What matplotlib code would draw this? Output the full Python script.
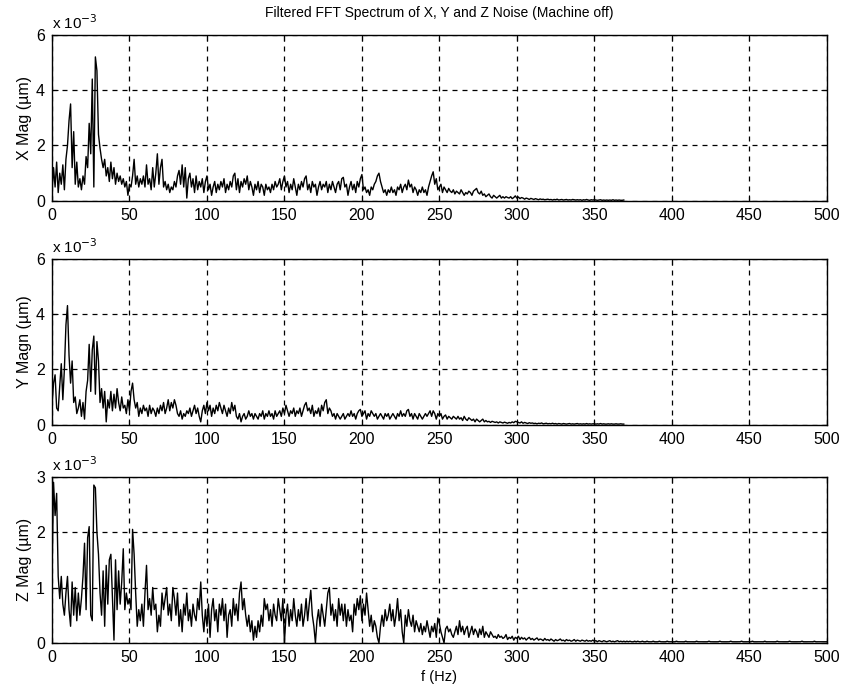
"""Filtered FFT spectrum of X, Y and Z noise, machine off."""
import matplotlib
matplotlib.use("Agg")
import matplotlib.pyplot as plt
import numpy as np

# magnitudes in units of 1e-3 um, one value per Hz starting at 0 Hz
x_mag = [
    0.3, 1.2, 0.5, 1.4, 0.3, 1.0, 0.6, 1.3, 0.4, 1.5,
    2.0, 2.9, 3.5, 1.2, 2.5, 0.6, 1.4, 0.5, 0.8, 0.4,
    0.9, 0.6, 1.6, 1.2, 2.8, 1.7, 4.4, 0.5, 5.2, 4.7,
    2.4, 1.9, 1.5, 1.2, 1.5, 0.9, 1.2, 0.7, 1.4, 0.8,
    1.2, 0.6, 1.0, 0.7, 0.9, 0.6, 0.8, 0.5, 0.7, 0.2,
    0.6, 0.5, 0.9, 1.5, 0.6, 0.9, 0.5, 0.8, 0.6, 0.9,
    0.5, 1.3, 0.6, 0.8, 0.4, 1.2, 0.5, 1.0, 1.7, 0.6,
    1.2, 1.5, 0.5, 0.7, 0.4, 0.6, 0.3, 0.5, 0.4, 0.7,
    0.5, 0.9, 1.1, 0.6, 1.3, 0.5, 1.2, 0.1, 0.8, 1.0,
    0.5, 0.8, 0.3, 0.9, 0.4, 0.7, 0.5, 0.8, 0.3, 0.7,
    0.9, 0.4, 0.6, 0.2, 0.5, 0.7, 0.3, 0.6, 0.4, 0.7,
    0.5, 0.8, 0.3, 0.6, 0.4, 0.7, 0.5, 0.9, 1.0, 0.4,
    0.8, 0.3, 0.7, 0.5, 0.8, 0.6, 0.9, 0.4, 0.7, 0.5,
    0.2, 0.6, 0.4, 0.7, 0.3, 0.6, 0.5, 0.2, 0.6, 0.4,
    0.5, 0.3, 0.6, 0.4, 0.7, 0.5, 0.6, 0.8, 0.4, 0.7,
    0.9, 0.5, 0.7, 0.3, 0.6, 0.4, 0.8, 0.5, 0.2, 0.6,
    0.4, 0.7, 0.5, 0.8, 0.9, 0.4, 0.6, 0.3, 0.7, 0.5,
    0.6, 0.2, 0.5, 0.7, 0.4, 0.6, 0.5, 0.7, 0.3, 0.6,
    0.4, 0.7, 0.5, 0.3, 0.6, 0.7, 0.4, 0.8, 0.85, 0.5,
    0.6, 0.2, 0.5, 0.7, 0.4, 0.6, 0.3, 0.7, 0.5, 0.8,
    0.95, 0.4, 0.5, 0.3, 0.4, 0.2, 0.5, 0.4, 0.6, 0.7,
    0.9, 1.0, 0.7, 0.5, 0.3, 0.4, 0.2, 0.4, 0.3, 0.5,
    0.3, 0.4, 0.2, 0.5, 0.4, 0.6, 0.3, 0.5, 0.6, 0.4,
    0.75, 0.5, 0.6, 0.3, 0.5, 0.4, 0.2, 0.4, 0.3, 0.5,
    0.3, 0.4, 0.2, 0.5, 0.7, 0.9, 1.05, 0.6, 0.8, 0.4,
    0.5, 0.6, 0.3, 0.5, 0.4, 0.3, 0.45, 0.35, 0.3, 0.4,
    0.25, 0.35, 0.3, 0.25, 0.4, 0.3, 0.2, 0.3, 0.25, 0.35,
    0.3, 0.2, 0.35, 0.4, 0.45, 0.3, 0.25, 0.35, 0.2, 0.25,
    0.15, 0.2, 0.25, 0.15, 0.1, 0.2, 0.15, 0.1, 0.15, 0.2,
    0.1, 0.15, 0.1, 0.15, 0.12, 0.1, 0.15, 0.08, 0.12, 0.18,
    0.1, 0.14, 0.08, 0.12, 0.1, 0.06, 0.1, 0.08, 0.05, 0.09,
    0.07, 0.05, 0.08, 0.06, 0.04, 0.07, 0.05, 0.06, 0.04, 0.05,
    0.06, 0.04, 0.05, 0.03, 0.05, 0.04, 0.06, 0.03, 0.04, 0.05,
    0.03, 0.04, 0.05, 0.03, 0.04, 0.03, 0.05, 0.04, 0.03, 0.04,
    0.03, 0.04, 0.02, 0.04, 0.03, 0.05, 0.03, 0.02, 0.04, 0.03,
    0.04, 0.03, 0.02, 0.03, 0.04, 0.02, 0.03, 0.02, 0.03, 0.02,
    0.03, 0.02, 0.04, 0.02, 0.03, 0.02, 0.03, 0.02, 0.02, 0.03,
]

y_mag = [
    0.7, 1.5, 1.8, 0.6, 0.5, 1.4, 2.2, 0.9, 2.0, 3.6,
    4.3, 2.5, 1.5, 2.3, 0.8, 1.0, 0.4, 0.6, 0.9, 0.3,
    0.8, 0.2, 1.2, 1.6, 2.9, 1.2, 2.7, 3.2, 1.1, 3.0,
    2.3, 0.8, 1.3, 0.6, 1.2, 0.1, 0.9, 0.6, 1.2, 0.5,
    1.1, 0.6, 1.3, 0.8, 0.5, 1.0, 0.6, 0.7, 0.4, 0.9,
    0.5, 1.2, 1.5, 0.9, 0.6, 0.8, 0.3, 0.6, 0.4, 0.7,
    0.5, 0.6, 0.3, 0.7, 0.4, 0.6, 0.5, 0.3, 0.6, 0.4,
    0.7, 0.5, 0.8, 0.4, 0.6, 0.9, 0.5, 0.8, 0.6, 0.9,
    0.7, 0.4, 0.3, 0.5, 0.2, 0.4, 0.3, 0.5, 0.4, 0.6,
    0.3, 0.5, 0.7, 0.4, 0.6, 0.3, 0.1, 0.5, 0.7, 0.4,
    0.8, 0.5, 0.7, 0.3, 0.6, 0.4, 0.7, 0.5, 0.8, 0.6,
    0.4, 0.7, 0.5, 0.3, 0.6, 0.4, 0.8, 0.5, 0.7, 0.3,
    0.2, 0.4, 0.1, 0.3, 0.4, 0.2, 0.3, 0.5, 0.3, 0.4,
    0.2, 0.4, 0.3, 0.2, 0.4, 0.3, 0.5, 0.2, 0.4, 0.3,
    0.5, 0.3, 0.4, 0.2, 0.5, 0.3, 0.4, 0.5, 0.3, 0.6,
    0.4, 0.7, 0.5, 0.3, 0.5, 0.4, 0.6, 0.3, 0.5, 0.4,
    0.6, 0.3, 0.5, 0.7, 0.8, 0.5, 0.6, 0.4, 0.7, 0.3,
    0.5, 0.4, 0.6, 0.3, 0.7, 0.5, 0.8, 0.9, 0.4, 0.6,
    0.5, 0.3, 0.4, 0.2, 0.4, 0.3, 0.2, 0.3, 0.4, 0.2,
    0.3, 0.4, 0.3, 0.5, 0.3, 0.4, 0.2, 0.4, 0.5, 0.55,
    0.3, 0.4, 0.5, 0.2, 0.4, 0.3, 0.5, 0.4, 0.3, 0.4,
    0.2, 0.3, 0.4, 0.3, 0.2, 0.4, 0.3, 0.4, 0.2, 0.3,
    0.4, 0.3, 0.2, 0.4, 0.3, 0.5, 0.3, 0.4, 0.3, 0.5,
    0.55, 0.3, 0.4, 0.2, 0.4, 0.3, 0.2, 0.4, 0.3, 0.2,
    0.3, 0.4, 0.3, 0.4, 0.5, 0.3, 0.5, 0.4, 0.2, 0.4,
    0.3, 0.4, 0.2, 0.3, 0.35, 0.2, 0.3, 0.25, 0.2, 0.3,
    0.25, 0.2, 0.3, 0.2, 0.25, 0.15, 0.3, 0.2, 0.15, 0.25,
    0.2, 0.15, 0.2, 0.1, 0.2, 0.15, 0.1, 0.15, 0.2, 0.1,
    0.15, 0.1, 0.12, 0.08, 0.12, 0.1, 0.08, 0.1, 0.06, 0.1,
    0.08, 0.06, 0.09, 0.07, 0.05, 0.08, 0.06, 0.1, 0.07, 0.12,
    0.1, 0.08, 0.06, 0.1, 0.05, 0.08, 0.06, 0.04, 0.07, 0.05,
    0.06, 0.04, 0.05, 0.03, 0.05, 0.04, 0.06, 0.03, 0.04, 0.05,
    0.03, 0.04, 0.03, 0.05, 0.03, 0.04, 0.02, 0.04, 0.03, 0.02,
    0.04, 0.03, 0.02, 0.03, 0.04, 0.02, 0.03, 0.02, 0.03, 0.04,
    0.02, 0.03, 0.02, 0.03, 0.02, 0.04, 0.02, 0.03, 0.02, 0.03,
    0.03, 0.02, 0.03, 0.02, 0.04, 0.02, 0.03, 0.02, 0.02, 0.03,
    0.02, 0.03, 0.02, 0.02, 0.03, 0.02, 0.02, 0.03, 0.02, 0.02,
]

z_mag = [
    1.2, 2.9, 2.3, 2.7, 1.2, 0.8, 1.2, 0.7, 0.5, 0.9,
    1.2, 0.6, 0.3, 1.1, 0.5, 1.0, 0.4, 0.9, 0.5, 0.8,
    1.2, 1.8, 0.6, 1.9, 2.1, 0.5, 0.4, 2.85, 2.8, 2.0,
    1.6, 0.9, 0.5, 1.3, 0.3, 1.4, 0.7, 1.5, 1.6, 0.8,
    0.05, 1.5, 0.6, 1.3, 0.7, 1.1, 1.7, 0.6, 0.9, 0.7,
    0.8, 0.6, 2.05, 1.6, 0.9, 0.3, 0.6, 0.4, 0.7, 0.3,
    0.9, 1.4, 0.6, 0.8, 0.5, 1.0, 0.6, 0.7, 0.2, 0.5,
    0.3, 0.9, 0.6, 0.8, 1.0, 0.5, 0.7, 0.4, 1.0, 0.8,
    0.5, 0.9, 0.3, 0.6, 0.2, 0.7, 0.5, 0.9, 0.4, 0.6,
    0.3, 0.7, 0.5, 0.4, 0.8, 0.6, 1.1, 0.5, 0.2, 0.6,
    0.3, 0.7, 0.1, 0.6, 0.8, 0.4, 0.6, 0.2, 0.7, 0.5,
    0.8, 0.4, 0.7, 0.1, 0.5, 0.6, 0.3, 0.8, 0.5, 0.7,
    0.4, 0.9, 1.1, 0.6, 0.8, 0.5, 0.3, 0.5, 0.2, 0.4,
    0.05, 0.3, 0.1, 0.4, 0.2, 0.5, 0.3, 0.8, 0.6, 0.7,
    0.4, 0.6, 0.3, 0.7, 0.5, 0.4, 0.8, 0.6, 0.4, 0.8,
    0.0, 0.5, 0.7, 0.3, 0.6, 0.4, 0.8, 0.5, 0.3, 0.6,
    0.4, 0.7, 0.3, 0.5, 0.8, 0.4, 0.7, 0.95, 0.5, 0.3,
    0.0, 0.4, 0.6, 0.3, 0.7, 0.5, 0.3, 0.6, 0.9, 1.0,
    0.5, 0.7, 0.4, 0.6, 0.3, 0.8, 0.5, 0.7, 0.4, 0.7,
    0.3, 0.6, 0.4, 0.5, 0.2, 0.7, 0.5, 0.8, 0.6, 0.85,
    0.4, 0.7, 0.5, 0.9, 0.6, 0.3, 0.5, 0.2, 0.4, 0.3,
    0.1, 0.0, 0.3, 0.5, 0.3, 0.6, 0.4, 0.5, 0.7, 0.4,
    0.6, 0.3, 0.5, 0.8, 0.4, 0.6, 0.2, 0.0, 0.5, 0.3,
    0.6, 0.4, 0.3, 0.5, 0.2, 0.4, 0.3, 0.2, 0.35, 0.15,
    0.3, 0.2, 0.4, 0.25, 0.1, 0.3, 0.2, 0.35, 0.1, 0.45,
    0.35, 0.2, 0.1, 0.0, 0.25, 0.3, 0.2, 0.25, 0.15, 0.1,
    0.2, 0.3, 0.15, 0.4, 0.2, 0.3, 0.15, 0.25, 0.3, 0.1,
    0.2, 0.3, 0.15, 0.25, 0.2, 0.1, 0.25, 0.15, 0.3, 0.1,
    0.2, 0.15, 0.1, 0.2, 0.15, 0.1, 0.12, 0.08, 0.15, 0.1,
    0.12, 0.08, 0.1, 0.15, 0.06, 0.1, 0.08, 0.12, 0.05, 0.1,
    0.08, 0.12, 0.06, 0.1, 0.07, 0.09, 0.05, 0.08, 0.1, 0.06,
    0.08, 0.05, 0.07, 0.09, 0.05, 0.07, 0.06, 0.04, 0.08, 0.05,
    0.06, 0.04, 0.07, 0.05, 0.03, 0.06, 0.04, 0.05, 0.07, 0.04,
    0.05, 0.03, 0.06, 0.04, 0.05, 0.03, 0.04, 0.06, 0.03, 0.05,
    0.04, 0.03, 0.05, 0.04, 0.03, 0.05, 0.03, 0.04, 0.03, 0.05,
    0.03, 0.04, 0.02, 0.04, 0.03, 0.02, 0.04, 0.03, 0.02, 0.03,
    0.04, 0.02, 0.03, 0.02, 0.03, 0.04, 0.02, 0.03, 0.02, 0.03,
    0.02, 0.03, 0.02, 0.03, 0.02, 0.02, 0.03, 0.02, 0.03, 0.02,
    0.02, 0.03, 0.02, 0.02, 0.03, 0.02, 0.02, 0.02, 0.03, 0.02,
    0.02, 0.02, 0.03, 0.02, 0.02, 0.02, 0.02, 0.03, 0.02, 0.02,
    0.02, 0.02, 0.02, 0.03, 0.02, 0.02, 0.02, 0.02, 0.02, 0.03,
    0.02, 0.02, 0.02, 0.02, 0.02, 0.02, 0.03, 0.02, 0.02, 0.02,
    0.02, 0.02, 0.02, 0.02, 0.03, 0.02, 0.02, 0.02, 0.02, 0.02,
    0.02, 0.03, 0.02, 0.02, 0.02, 0.02, 0.02, 0.02, 0.03, 0.02,
    0.02, 0.02, 0.02, 0.02, 0.02, 0.03, 0.02, 0.02, 0.02, 0.02,
    0.02, 0.02, 0.03, 0.02, 0.02, 0.02, 0.02, 0.02, 0.02, 0.02,
    0.03, 0.02, 0.02, 0.02, 0.02, 0.02, 0.02, 0.02, 0.03, 0.02,
    0.02, 0.02, 0.02, 0.02, 0.02, 0.02, 0.03, 0.02, 0.02, 0.02,
    0.02, 0.02, 0.02, 0.02, 0.03, 0.02, 0.02, 0.02, 0.02, 0.02,
    0.02, 0.02, 0.03, 0.02, 0.02, 0.02, 0.02, 0.02, 0.02, 0.02,
    0.02,
]

panels = [
    (x_mag, "X Mag (\u00b5m)", [0, 2, 4, 6]),
    (y_mag, "Y Magn (\u00b5m)", [0, 2, 4, 6]),
    (z_mag, "Z Mag (\u00b5m)", [0, 1, 2, 3]),
]
x_ticks = [0, 50, 100, 150, 200, 250, 300, 350, 400, 450, 500]

plt.rcParams["font.family"] = ["Liberation Sans", "DejaVu Sans"]

fig = plt.figure(figsize=(8.44, 6.95), dpi=100)
bottoms = [0.711, 0.389, 0.075]
axes = [fig.add_axes([0.0616, b, 0.918, 0.239]) for b in bottoms]

for ax, (mag, label, yticks) in zip(axes, panels):
    freq = np.arange(len(mag))
    ax.plot(freq, mag, color="black", linewidth=1.0)
    ax.set_xlim(0, 500)
    ax.set_ylim(yticks[0], yticks[-1])
    ax.set_xticks(x_ticks)
    ax.set_yticks(yticks)
    ax.grid(True, color="black", linestyle=(0, (4, 4)), linewidth=0.9)
    ax.tick_params(direction="in", length=4, top=True, right=True,
                   labelsize=11.5, pad=5)
    for spine in ax.spines.values():
        spine.set_linewidth(1.0)
    ax.set_ylabel(label, fontsize=11.5, labelpad=3)
    ax.text(0.0, 1.015, r"x 10$^{-3}$", transform=ax.transAxes,
            ha="left", va="bottom", fontsize=11)

axes[0].set_title("Filtered FFT Spectrum of X, Y and Z Noise (Machine off)",
                  fontsize=10, pad=13)
axes[2].set_xlabel("f (Hz)", fontsize=10.5, labelpad=4)

fig.savefig("out.png", dpi=100, facecolor="white")
plt.close(fig)
